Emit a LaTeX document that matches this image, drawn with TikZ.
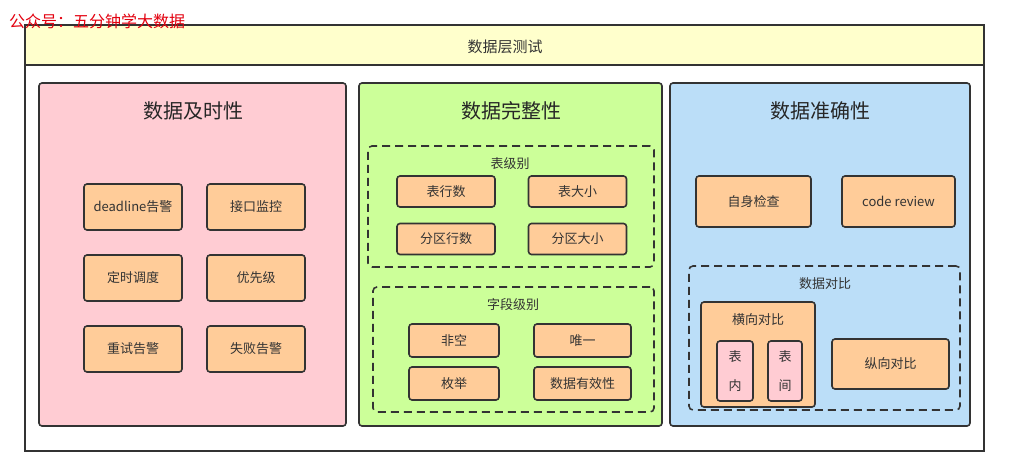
\documentclass[tikz,border=0pt]{standalone}
\usepackage{fontspec}
\setmainfont{Noto Sans CJK SC}
\usetikzlibrary{positioning}
\definecolor{stroke}{HTML}{333333}
\definecolor{hdr}{HTML}{FFFFCC}
\definecolor{pinkp}{HTML}{FFCCD3}
\definecolor{greenp}{HTML}{CCFF99}
\definecolor{bluep}{HTML}{BBDEF8}
\definecolor{orangeb}{HTML}{FFCC99}
\definecolor{wmred}{HTML}{E3000F}
\tikzset{
  panel/.style={draw=stroke, line width=1.6pt, rounded corners=3pt, inner sep=0pt},
  itembox/.style={draw=stroke, fill=orangeb, line width=1.6pt, rounded corners=3pt, inner sep=0pt, text=stroke, font=\fontsize{13}{15}\selectfont},
  dashbox/.style={draw=stroke, line width=1.6pt, dash pattern=on 8pt off 5pt, rounded corners=4pt, inner sep=0pt},
  ptitle/.style={text=black!85, font=\fontsize{20}{22}\selectfont},
  slabel/.style={text=stroke, font=\fontsize{13}{15}\selectfont},
}
\begin{document}
\begin{tikzpicture}[x=1pt,y=-1pt]
\useasboundingbox (0,0) rectangle (1010,476);
\fill[white] (0,0) rectangle (1010,476);
% outer frame
\node[draw=stroke, line width=1.6pt, minimum width=959pt, minimum height=426pt, inner sep=0pt] (frame) at (504.5,238) {};
\node[draw=stroke, fill=hdr, line width=1.6pt, minimum width=959pt, minimum height=40pt, inner sep=0pt] (header) at (504.5,45) {};
\node[slabel, font=\fontsize{15}{17}\selectfont] (htitle) at (505,47) {数据层测试};
% watermark
\node[anchor=west, text=wmred, font=\fontsize{16}{18}\selectfont, inner sep=0pt] (wm) at (9,21) {公众号：五分钟学大数据};
% panels
\node[panel, fill=pinkp, minimum width=307pt, minimum height=343pt] (p1) at (192.5,254.5) {};
\node[panel, fill=greenp, minimum width=303pt, minimum height=343pt] (p2) at (510.5,254.5) {};
\node[panel, fill=bluep, minimum width=300pt, minimum height=343pt] (p3) at (820,254.5) {};
\node[ptitle] (t1) at (193,111) {数据及时性};
\node[ptitle] (t2) at (511,111) {数据完整性};
\node[ptitle] (t3) at (820,111) {数据准确性};
% panel 1
\tikzset{pb/.style={itembox, minimum width=98pt, minimum height=46pt}}
\node[pb] (a1) at (133,207) {deadline告警};
\node[pb] (a2) at (256,207) {接口监控};
\node[pb] (a3) at (133,278) {定时调度};
\node[pb] (a4) at (256,278) {优先级};
\node[pb] (a5) at (133,349) {重试告警};
\node[pb] (a6) at (256,349) {失败告警};
% panel 2
\node[dashbox, minimum width=286pt, minimum height=121pt] (d1) at (511,206.5) {};
\node[slabel] (d1t) at (510,164) {表级别};
\tikzset{tb/.style={itembox, minimum width=98pt, minimum height=31pt}}
\node[tb] (b1) at (446,191.5) {表行数};
\node[tb] (b2) at (577.5,191.5) {表大小};
\node[tb] (b3) at (446,239) {分区行数};
\node[tb] (b4) at (577.5,239) {分区大小};
\node[dashbox, minimum width=281pt, minimum height=125pt] (d2) at (513.5,349.5) {};
\node[slabel] (d2t) at (513,305) {字段级别};
\node[itembox, minimum width=90pt, minimum height=33pt] (c1) at (454,340.5) {非空};
\node[itembox, minimum width=97pt, minimum height=33pt] (c2) at (582.5,340.5) {唯一};
\node[itembox, minimum width=90pt, minimum height=33pt] (c3) at (454,383.5) {枚举};
\node[itembox, minimum width=97pt, minimum height=33pt] (c4) at (582.5,383.5) {数据有效性};
% panel 3
\node[itembox, minimum width=115pt, minimum height=51pt] (e1) at (753.5,201.5) {自身检查};
\node[itembox, minimum width=113pt, minimum height=51pt] (e2) at (898.5,201.5) {code review};
\node[dashbox, minimum width=271pt, minimum height=144pt] (d3) at (824.5,338) {};
\node[slabel] (d3t) at (825,284) {数据对比};
\node[itembox, minimum width=114pt, minimum height=105pt] (h) at (758,354.5) {};
\node[slabel] (ht) at (758,320) {横向对比};
\node[itembox, fill=pinkp, minimum width=36pt, minimum height=60pt, align=center, font=\fontsize{13}{29}\selectfont] (h1) at (735,371) {表\\内};
\node[itembox, fill=pinkp, minimum width=34pt, minimum height=60pt, align=center, font=\fontsize{13}{29}\selectfont] (h2) at (785,371) {表\\间};
\node[itembox, minimum width=117pt, minimum height=50pt] (v) at (890.5,364) {纵向对比};
\end{tikzpicture}
\end{document}
